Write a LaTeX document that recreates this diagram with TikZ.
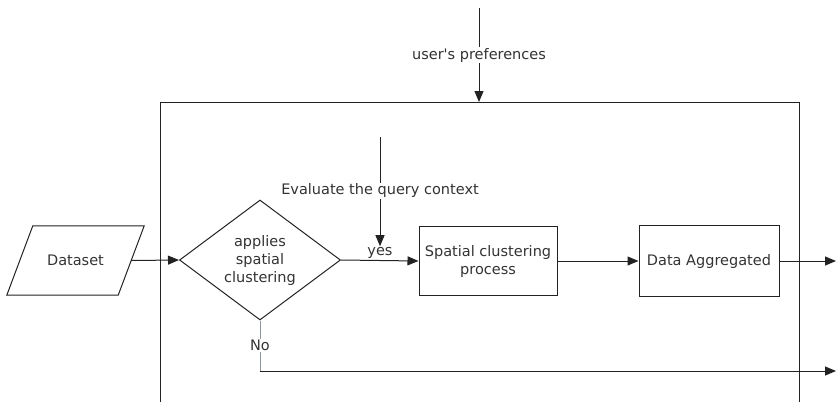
\documentclass[tikz,border=0pt]{standalone}
\usepackage{fontspec}
\setmainfont{DejaVu Sans}
\usepackage{tikz}
\usetikzlibrary{arrows.meta,shapes.geometric}
\definecolor{linegray}{HTML}{222222}
\definecolor{textgray}{HTML}{333333}
\definecolor{paleline}{HTML}{8E959C}
\tikzstyle{arrow}=[draw=linegray, line width=1pt, -{Triangle[length=11pt,width=9pt]}]
\tikzstyle{plain}=[draw=linegray, line width=1pt]
\tikzstyle{procbox}=[draw=linegray, line width=1pt, text=textgray, align=center, inner sep=0pt]
\tikzstyle{tag}=[fill=white, text=textgray, inner sep=1pt]

\begin{document}
\begin{tikzpicture}[x=1pt, y=-1pt, font=\fontsize{14.5}{18}\selectfont]
	\useasboundingbox (0,0) rectangle (836,402);
	% frame of the process
	\draw[plain] (160,402) -- (160,102) -- (799,102) -- (799,402);
	\begin{scope}
		\node (dataset) at (75.5,260.5)[text=textgray, minimum width=111pt, minimum height=69pt, inner sep=0pt] {Dataset};
		\node (decision) at (260,260)[diamond, draw=linegray, line width=1pt, text=textgray, align=center, aspect=1.34, inner sep=0pt, minimum width=161pt, minimum height=120pt] {applies\\spatial\\clustering};
		\node (cluster) at (488,261)[procbox, minimum width=138pt, minimum height=69pt] {Spatial clustering\\process};
		\node (aggr) at (709,261)[procbox, minimum width=140pt, minimum height=71pt] {Data Aggregated};
		\node (yes) at (380,253)[text=textgray, inner sep=1pt] {yes};
		\coordinate (preftop) at (479,8);
		\coordinate (prefend) at (479,102);
		\coordinate (querytop) at (380,137);
		\coordinate (out1) at (836,261);
		\coordinate (nocorner) at (260,371);
		\coordinate (out2) at (836,371);
	\end{scope}
	% slanted input box
	\draw[plain] ([xshift=13pt]dataset.north west) -- ([xshift=13pt]dataset.north east)
		-- ([xshift=-13pt]dataset.south east) -- ([xshift=-13pt]dataset.south west) -- cycle;
	\begin{scope}
		\draw[arrow] (preftop) -- node[tag]{user\textquotesingle s preferences} (prefend);
		\draw[arrow] (querytop) -- node[tag, pos=0.49]{Evaluate the query context} (yes.north);

		\draw[arrow] (dataset.east) -- (decision.west);
		\draw[arrow] (decision.east) -- (cluster.west);
		\draw[arrow] (cluster.east) -- (aggr.west);
		\draw[arrow] (aggr.east) -- (out1);

		\draw[draw=paleline, line width=1pt] (decision.south) -- node[tag]{No} (nocorner);
		\draw[arrow] (nocorner) -- (out2);
	\end{scope}
\end{tikzpicture}
\end{document}
